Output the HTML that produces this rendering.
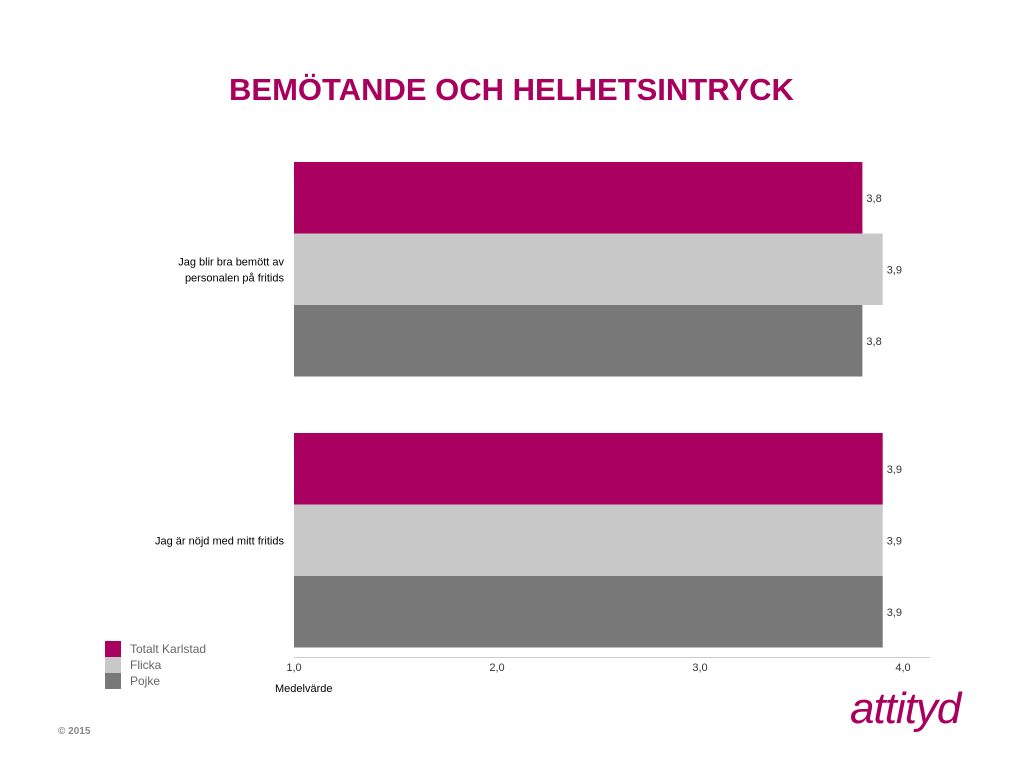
<!DOCTYPE html>
<html><head><meta charset="utf-8"><style>
body{margin:0;width:1023px;height:768px;background:#fff;font-family:"Liberation Sans",sans-serif;overflow:hidden;position:relative}
.t{position:absolute}
</style></head><body>
<div class="t" style="left:0;width:1023px;top:72px;text-align:center;font-size:31px;font-weight:bold;color:#a8005c">BEMÖTANDE OCH HELHETSINTRYCK</div>
<svg id="c" class="t" style="left:0;top:0" width="1023" height="768"></svg>
<div class="t" style="left:58px;top:726px;font-size:10px;color:#888;font-weight:bold">© 2015</div>
<div class="t" style="left:850px;top:684px;font-size:44px;font-style:italic;color:#a8005c;letter-spacing:-1px">attityd</div>
<script>
const categories=["Jag blir bra bemött av|personalen på fritids","Jag är nöjd med mitt fritids"];
const seriesNames=["Totalt Karlstad","Flicka","Pojke"];
const colors=["#aa0060","#c8c8c8","#787878"];
const totalt=[3.8,3.9];
const flicka=[3.9,3.9];
const pojke=[3.8,3.9];
const ticks=[1,2,3,4];
const tickLabels=["1,0","2,0","3,0","4,0"];
const series=[totalt,flicka,pojke];
const NS="http://www.w3.org/2000/svg";
const svg=document.getElementById('c');
const x=v=>294+(v-1)*203;
const groupTop=[162,433], bh=71.5;
function el(t,a,txt){const e=document.createElementNS(NS,t);for(const k in a)e.setAttribute(k,a[k]);if(txt!=null)e.textContent=txt;svg.appendChild(e);return e;}
categories.forEach((c,i)=>{
 series.forEach((s,j)=>{
  const y=groupTop[i]+j*bh;
  const r=el('rect',{x:x(1),y:y,width:x(s[i])-x(1),height:bh,fill:colors[j]});
  
  
  const l=el('text',{x:x(s[i])+4,y:y+bh/2+4,'font-size':11,fill:'#333'},s[i].toFixed(1).replace('.',','));
  
  
 });
 const lines=c.split('|');
 const cy=groupTop[i]+bh*1.5;
 lines.forEach((ln,k)=>{
  const t=el('text',{x:284,y:cy+4+(k-(lines.length-1)/2)*16,'font-size':11,'text-anchor':'end',fill:'#000'},ln);
  
  
 });
});
const ax=el('line',{x1:294,x2:930,y1:657.5,y2:657.5,stroke:'#ccc'});


ticks.forEach((v,i)=>{
 const t=el('text',{x:x(v),y:671,'font-size':11,'text-anchor':'middle',fill:'#333'},tickLabels[i]);
 
 
});
const at=el('text',{x:275,y:692,'font-size':11,fill:'#000'},'Medelvärde');


seriesNames.forEach((n,j)=>{
 const r=el('rect',{x:105,y:641+j*16,width:16,height:16,fill:colors[j]});
 
 
 const t=el('text',{x:130,y:653+j*16,'font-size':12,fill:'#666'},n);
 
 
});
</script>
</body></html>
